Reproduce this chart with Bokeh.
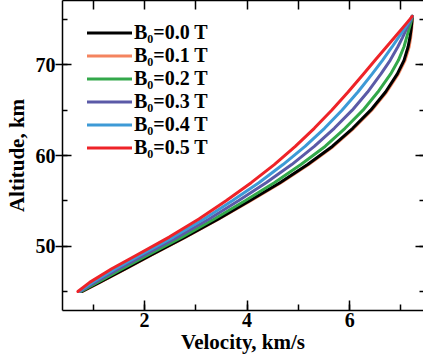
from bokeh.plotting import figure
from bokeh.models import (LinearAxis, Range1d, SingleIntervalTicker, Legend,
                          LegendItem, CustomJSTickFormatter)
from bokeh.embed import file_html
from bokeh.resources import INLINE

# ---- data ----
altitude = [45, 46, 47.5, 49, 51, 53, 55, 57, 59, 61, 63, 65, 67, 69, 70.5, 72, 73, 74, 74.8, 75.35]
v_b00 = [0.78, 1.12, 1.62, 2.12, 2.79, 3.44, 4.05, 4.64, 5.18, 5.66, 6.06, 6.41, 6.70, 6.93, 7.06, 7.14, 7.175, 7.20, 7.215, 7.22]
v_b01 = [0.79, 1.13, 1.63, 2.13, 2.80, 3.45, 4.07, 4.66, 5.20, 5.68, 6.08, 6.43, 6.72, 6.95, 7.08, 7.16, 7.19, 7.21, 7.22, 7.22]
v_b02 = [0.76, 1.08, 1.57, 2.06, 2.73, 3.36, 3.96, 4.53, 5.05, 5.52, 5.91, 6.26, 6.55, 6.80, 6.95, 7.06, 7.11, 7.16, 7.20, 7.22]
v_b03 = [0.74, 1.03, 1.50, 1.99, 2.64, 3.26, 3.83, 4.37, 4.87, 5.31, 5.70, 6.05, 6.35, 6.61, 6.79, 6.94, 7.03, 7.11, 7.18, 7.22]
v_b04 = [0.72, 0.98, 1.43, 1.91, 2.56, 3.16, 3.71, 4.23, 4.70, 5.13, 5.51, 5.85, 6.16, 6.44, 6.64, 6.83, 6.95, 7.07, 7.16, 7.22]
v_b05 = [0.70, 0.93, 1.36, 1.84, 2.48, 3.06, 3.59, 4.08, 4.53, 4.94, 5.31, 5.65, 5.97, 6.27, 6.495, 6.72, 6.87, 7.02, 7.14, 7.22]

labels = ["B\u2080=0.0 T", "B\u2080=0.1 T", "B\u2080=0.2 T",
          "B\u2080=0.3 T", "B\u2080=0.4 T", "B\u2080=0.5 T"]
colors = ["#000000", "#f4845f", "#33a84a", "#5b5aa7", "#3d9ad6", "#ee2328"]
series = [v_b00, v_b01, v_b02, v_b03, v_b04, v_b05]

x_label = "Velocity, km/s"
y_label = "Altitude, km"

FONT = "Liberation Serif"

p = figure(width=423, height=356, output_backend="svg", toolbar_location=None,
           x_range=Range1d(0.40, 7.44), y_range=Range1d(42.9, 77.1),
           min_border_left=62, min_border_right=0, min_border_top=0,
           min_border_bottom=46)
p.outline_line_color = None
p.grid.visible = False
p.background_fill_color = "white"
p.border_fill_color = "white"


def style(ax, ticker, tin, tout, min_in, lw=1.5):
    ax.ticker = ticker
    ax.major_tick_in = tin
    ax.major_tick_out = tout
    ax.minor_tick_in = min_in
    ax.minor_tick_out = 0
    ax.axis_line_width = lw
    ax.major_tick_line_width = lw
    ax.minor_tick_line_width = lw
    ax.axis_line_color = "black"
    ax.major_tick_line_color = "black"
    ax.minor_tick_line_color = "black"


xb = p.xaxis[0]
style(xb, SingleIntervalTicker(interval=2, num_minor_ticks=2), 10, 0, 6)
xb.major_label_text_font = FONT
xb.major_label_text_font_size = "20px"
xb.major_label_text_font_style = "bold"
xb.major_label_text_color = "black"
xb.major_label_standoff = 2
xb.axis_label = x_label
xb.axis_label_text_font = FONT
xb.axis_label_text_font_size = "21px"
xb.axis_label_text_font_style = "bold"
xb.axis_label_text_color = "black"
xb.axis_label_standoff = 0

yl = p.yaxis[0]
style(yl, SingleIntervalTicker(interval=10, num_minor_ticks=2), 9, 7, 5)
yl.major_label_text_font = FONT
yl.major_label_text_font_size = "20px"
yl.major_label_text_font_style = "bold"
yl.major_label_text_color = "black"
yl.major_label_standoff = 0
yl.axis_label = y_label
yl.axis_label_text_font = FONT
yl.axis_label_text_font_size = "21px"
yl.axis_label_text_font_style = "bold"
yl.axis_label_text_color = "black"
yl.axis_label_standoff = 4

blank = "return ''"
xt = LinearAxis()
style(xt, SingleIntervalTicker(interval=1, num_minor_ticks=0), 9, 0, 0)
xt.formatter = CustomJSTickFormatter(code=blank)
xt.major_label_text_font_size = "0px"
xt.major_label_standoff = 0
p.add_layout(xt, "above")

yr = LinearAxis()
style(yr, SingleIntervalTicker(interval=10, num_minor_ticks=2), 8, 0, 4)
yr.axis_line_color = None
yr.formatter = CustomJSTickFormatter(code=blank)
yr.major_label_text_font_size = "0px"
yr.major_label_standoff = 0
p.add_layout(yr, "right")

renderers = {}
draw_order = [1, 0, 2, 3, 4, 5]
for i in draw_order:
    renderers[i] = p.line(series[i], altitude, line_color=colors[i], line_width=3,
                          line_join="round", line_cap="round")

legend = Legend(items=[LegendItem(label=labels[i], renderers=[renderers[i]]) for i in range(6)],
                location=(25, 151), glyph_width=45, glyph_height=21, label_height=21,
                spacing=0, padding=0, margin=0, label_standoff=2,
                border_line_alpha=0, background_fill_alpha=0,
                label_text_font=FONT, label_text_font_size="20px",
                label_text_font_style="bold", label_text_color="black")
p.add_layout(legend)

open("out.html", "w").write(file_html(p, INLINE))
